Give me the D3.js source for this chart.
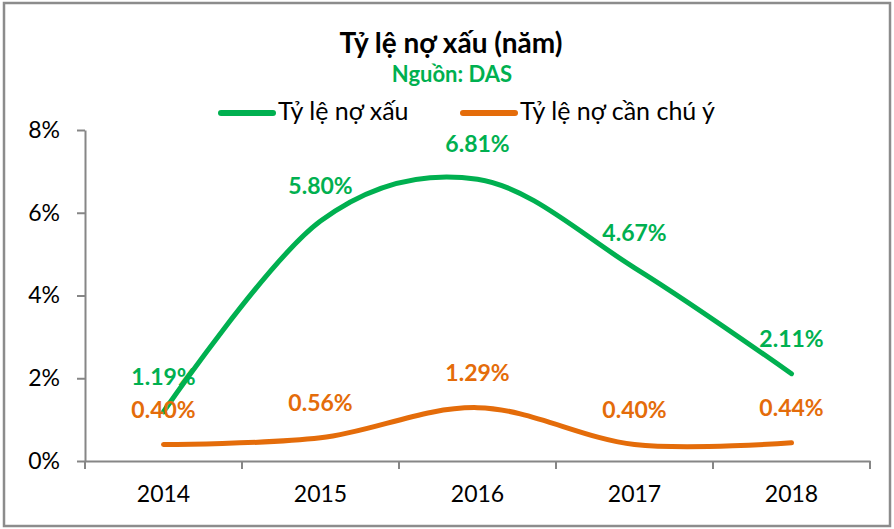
<!DOCTYPE html>
<html>
<head>
<meta charset="utf-8">
<script src="https://cdn.jsdelivr.net/npm/d3@7"></script>
<style>
  body { margin: 0; background: #fff; }
  svg { display: block; font-family: Lato, "Open Sans", sans-serif; }
</style>
</head>
<body>
<svg width="894" height="529"></svg>
<script>
const years = ["2014", "2015", "2016", "2017", "2018"];
const noXau = [1.19, 5.80, 6.81, 4.67, 2.11];
const noCanChuY = [0.40, 0.56, 1.29, 0.40, 0.44];
const yTicks = [0, 2, 4, 6, 8];

const green = "#00b050";
const orange = "#e46c0a";
const axisColor = "#868686";

const svg = d3.select("svg");

// chart border
svg.append("rect")
  .attr("x", 4).attr("y", 3)
  .attr("width", 886).attr("height", 523)
  .attr("fill", "none")
  .attr("stroke", "#8c8c8c")
  .attr("stroke-width", 2.5);

const x = d3.scaleBand().domain(years).range([85, 870]).padding(0);
const y = d3.scaleLinear().domain([0, 8]).range([461, 130]);
const cx = d => x(d) + x.bandwidth() / 2;

// title
svg.append("text")
  .attr("x", 451).attr("y", 53)
  .attr("text-anchor", "middle")
  .attr("font-size", 28).attr("font-weight", "bold")
  .text("Tỷ lệ nợ xấu (năm)");
svg.append("text")
  .attr("x", 452).attr("y", 82)
  .attr("text-anchor", "middle")
  .attr("font-size", 22).attr("font-weight", "bold")
  .attr("fill", green)
  .text("Nguồn: DAS");

// legend
const legend = [
  { name: "Tỷ lệ nợ xấu", color: green, x: 221 },
  { name: "Tỷ lệ nợ cần chú ý", color: orange, x: 463 }
];
const lg = svg.selectAll(".leg").data(legend).enter().append("g")
  .attr("transform", d => `translate(${d.x},113)`);
lg.append("line")
  .attr("x1", 0).attr("x2", 52)
  .attr("stroke", d => d.color).attr("stroke-width", 6)
  .attr("stroke-linecap", "round");
lg.append("text")
  .attr("x", 57).attr("y", 7)
  .attr("font-size", 25)
  .text(d => d.name);

// y axis
const yAxis = svg.append("g")
  .attr("transform", "translate(85,0)")
  .call(d3.axisLeft(y).tickValues(yTicks).tickFormat(d => d + "%")
    .tickSize(8).tickSizeOuter(0).tickPadding(17));
yAxis.selectAll("text").attr("font-size", 23).attr("fill", "#000")
  .attr("font-family", "Lato, sans-serif");

// x axis
const xAxis = svg.append("g")
  .attr("transform", "translate(0,461)")
  .call(d3.axisBottom(x).tickSize(0).tickPadding(25).tickSizeOuter(0));
xAxis.selectAll("text").attr("font-size", 23).attr("fill", "#000")
  .attr("font-family", "Lato, sans-serif");
const bounds = years.map(d => x(d)).concat([x(years[years.length - 1]) + x.bandwidth()]);
xAxis.selectAll(".bound").data(bounds).enter().append("line")
  .attr("x1", d => d).attr("x2", d => d)
  .attr("y1", 0).attr("y2", 8);
[yAxis, xAxis].forEach(a => {
  a.selectAll("path, line").attr("stroke", axisColor).attr("stroke-width", 2);
});

// lines
const line = d3.line()
  .x((d, i) => cx(years[i]))
  .y(d => y(d))
  .curve(d3.curveCardinal.tension(0));

const series = [
  { values: noXau, color: green },
  { values: noCanChuY, color: orange }
];

series.forEach(s => {
  svg.append("path")
    .datum(s.values)
    .attr("d", line)
    .attr("fill", "none")
    .attr("stroke", s.color)
    .attr("stroke-width", 5)
    .attr("stroke-linecap", "round");
});

series.forEach(s => {
  svg.selectAll(null).data(s.values).enter().append("text")
    .attr("x", (d, i) => cx(years[i]))
    .attr("y", d => y(d) - 35)
    .attr("dy", "0.35em")
    .attr("text-anchor", "middle")
    .attr("font-size", 23).attr("font-weight", "bold")
    .attr("fill", s.color)
    .text(d => d.toFixed(2) + "%");
});
</script>
</body>
</html>
